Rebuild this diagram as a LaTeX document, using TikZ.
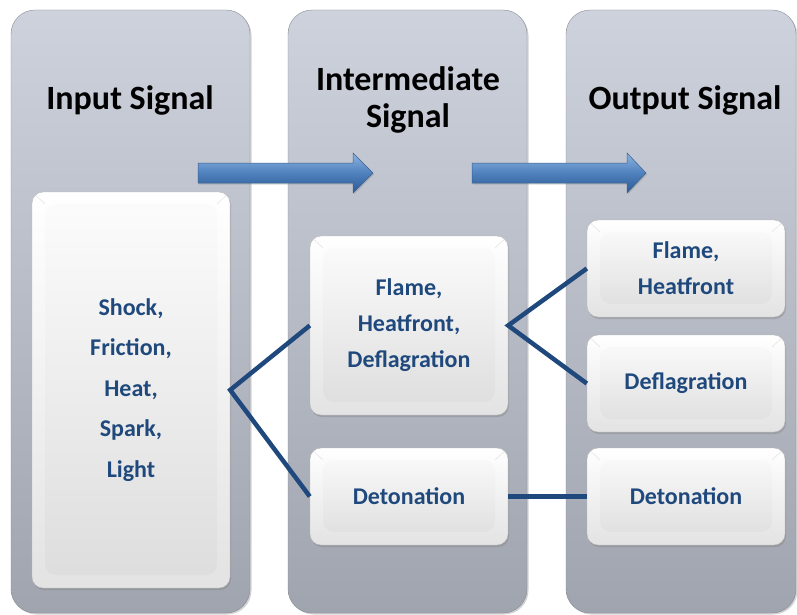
\documentclass[tikz,border=0pt]{standalone}
\usepackage{fontspec}
\setmainfont{Carlito}
\usepackage{tikz}
\usetikzlibrary{shadows}
\definecolor{colTop}{HTML}{CED2DC}
\definecolor{colBot}{HTML}{A0A4AF}
\definecolor{txtBlue}{HTML}{1F497D}
\definecolor{arrTop}{HTML}{8DB4E3}
\definecolor{arrMid}{HTML}{4F81BD}
\definecolor{arrBot}{HTML}{2C5A96}

\begin{document}
\begin{tikzpicture}[
  x=1pt, y=-1pt,
  every node/.style={font=\bfseries},
  column/.style={rounded corners=24pt, minimum width=239pt, minimum height=603pt,
                 top color=colTop, bottom color=colBot, draw=colBot!85!black,
                 line width=0.4pt,
                 drop shadow={opacity=0.35, shadow xshift=1.5pt, shadow yshift=-1.5pt}},
  heading/.style={font=\fontsize{34}{37}\selectfont\bfseries, align=center,
                  text=black, inner sep=0pt},
  keybox/.style={rounded corners=11pt, minimum width=198pt, minimum height=97pt,
                 top color=white, bottom color=gray!22, draw=gray!55,
                 line width=0.4pt, align=center, text=txtBlue, inner sep=0pt,
                 font=\fontsize{24}{36}\selectfont\bfseries,
                 drop shadow={opacity=0.4, shadow xshift=1pt, shadow yshift=-2pt},
                 path picture={
                   \shade[top color=gray!2, bottom color=gray!27]
                     ([shift={(13pt,-12pt)}]path picture bounding box.north west)
                     rectangle ([shift={(-13pt,13pt)}]path picture bounding box.south east);
                   \draw[gray!20, line width=0.6pt]
                     (path picture bounding box.north west)
                       -- ++(13pt,-12pt)
                     (path picture bounding box.north east)
                       -- ++(-13pt,-12pt)
                     (path picture bounding box.south west)
                       -- ++(13pt,13pt)
                     (path picture bounding box.south east)
                       -- ++(-13pt,13pt);
                 }},
  link/.style={draw=txtBlue, line width=4.5pt, line join=miter},
  blockarr/.style={top color=arrTop, bottom color=arrBot, middle color=arrMid,
                   draw=arrMid!75!black, line width=0.5pt,
                   drop shadow={opacity=0.3, shadow xshift=1pt, shadow yshift=-1.5pt}},
]
  \useasboundingbox (0,0) rectangle (797,615);

  % three signal columns
  \node[column] (colIn)  at (130.5, 311.5) {};
  \node[column] (colMid) at (407.5, 311.5) {};
  \node[column, minimum width=230pt] (colOut) at (681, 311.5) {};

  \node[heading, anchor=base] (hIn)  at (130, 110) {Input Signal};
  \node[heading] (hMid) at (408, 100) {Intermediate\\Signal};
  \node[heading, anchor=base] (hOut) at (685, 110) {Output Signal};

  % block arrows
  \path[blockarr] (198,163) -- (353,163) -- (353,153) -- (373,173)
    -- (353,193) -- (353,183) -- (198,183) -- cycle;
  \path[blockarr] (472,163) -- (627,163) -- (627,153) -- (646,173)
    -- (627,193) -- (627,183) -- (472,183) -- cycle;

  % signal boxes
  \node[keybox, minimum height=396pt, font=\fontsize{24}{40.5}\selectfont\bfseries]
    (inbox) at (131, 390) {Shock,\\Friction,\\Heat,\\Spark,\\Light};

  \node[keybox, minimum height=179pt] (midA) at (409, 325.5)
    {Flame,\\Heatfront,\\Deflagration};
  \node[keybox] (midB) at (409, 496.5) {Detonation};

  \node[keybox] (outA) at (686, 268.5) {Flame,\\Heatfront};
  \node[keybox] (outB) at (686, 383.5) {Deflagration};
  \node[keybox] (outC) at (686, 496.5) {Detonation};

  \draw[link] (midA.west) -- (inbox.east) -- (midB.west);
  \draw[link] (outA.west) -- (midA.east) -- (outB.west);
  \draw[link] (midB.east) -- (outC.west);
\end{tikzpicture}
\end{document}
